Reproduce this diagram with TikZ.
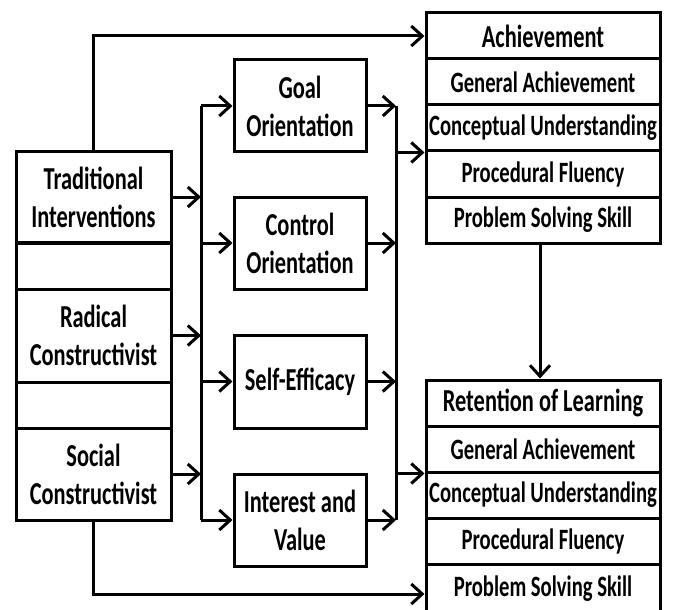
\documentclass[tikz,border=0pt]{standalone}
\usepackage{fontspec}
\newfontfamily\boxfont{Carlito}[FakeStretch=0.7]
\usetikzlibrary{arrows.meta}

\tikzset{
  box/.style={draw, line width=3pt, align=center, inner sep=0pt,
    font=\boxfont\bfseries\fontsize{32}{38}\selectfont},
  lbox/.style={box, minimum width=155pt},
  mbox/.style={box, minimum width=132pt, minimum height=92pt},
  head/.style={box, minimum width=234pt, minimum height=46pt},
  row/.style={head, font=\boxfont\bfseries\fontsize{29.5}{35}\selectfont},
  link/.style={line width=3pt, -{Straight Barb[length=11pt,width=20pt]}},
  bus/.style={line width=3pt}
}

\begin{document}
\begin{tikzpicture}[x=1pt,y=-1pt]
  \useasboundingbox (0,0) rectangle (673,610);
  % Interventions
  \node[lbox, minimum height=90pt] (trad) at (93.5,197) {Traditional\\Interventions};
  \node[lbox, minimum height=46pt] (gapa) at (93.5,266) {};
  \node[lbox, minimum height=93pt] (rad) at (93.5,335.5) {Radical\\Constructivist};
  \node[lbox, minimum height=46pt] (gapb) at (93.5,405) {};
  \node[lbox, minimum height=92pt] (soc) at (93.5,474) {Social\\Constructivist};
  % Motivation variables
  \node[mbox] (goal) at (300,106) {Goal\\Orientation};
  \node[mbox] (ctrl) at (300,243) {Control\\Orientation};
  \node[mbox, minimum height=93pt] (self) at (300,381.5) {Self-Efficacy};
  \node[mbox] (intr) at (300,520) {Interest and\\Value};
  % Outcomes
  \node[head] (ach) at (543,36) {Achievement};
  \foreach \n/\t [count=\i] in {gena/General Achievement, cona/Conceptual Understanding,
      proa/Procedural Fluency, psa/Problem Solving Skill}
    \node[row] (\n) at (543,{36+46*\i}) {\t};
  \node[head] (ret) at (543,403) {Retention of Learning};
  \foreach \n/\t [count=\i] in {genb/General Achievement, conb/Conceptual Understanding,
      prob/Procedural Fluency}
    \node[row] (\n) at (543,{403+46*\i}) {\t};
  \node[row, minimum height=50pt] (psb) at (543,589) {Problem Solving Skill};
  % Buses
  \coordinate (lb) at (201,0);
  \coordinate (rb) at (396,0);
  \draw[bus] (goal -| lb) -- (intr -| lb);
  \draw[bus] (goal -| rb) -- (intr -| rb);
  % Arrows into and out of the buses
  \foreach \s in {trad, rad, soc}
    \draw[link] (\s) -- (\s -| lb);
  \foreach \m in {goal, ctrl, self, intr} {
    \draw[link] (\m -| lb) -- (\m);
    \draw[link] (\m) -- (\m -| rb);
  }
  \draw[link] (cona.south west -| rb) -- (cona.south west);
  \draw[link] (genb.south west -| rb) -- (genb.south west);
  % Direct paths
  \draw[link] (trad.north) |- (ach.west);
  \draw[link] (soc.south) |- ([yshift=-5pt]psb.west);
  \draw[link] (psa.south -| 540,0) -- (ret.north -| 540,0);
\end{tikzpicture}
\end{document}
